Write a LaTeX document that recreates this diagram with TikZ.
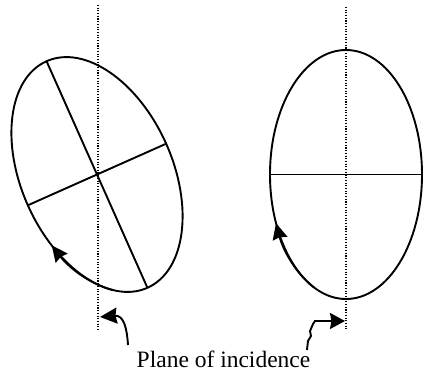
\documentclass[tikz,border=0pt]{standalone}
\usepackage{fontspec}
\setmainfont{Liberation Serif}
\usetikzlibrary{arrows.meta}
\tikzset{
  curve/.style={line width=1.9pt},
  dotline/.style={line width=1.1pt, dash pattern=on 1.1pt off 1.6pt},
  bigtip/.style={-{Stealth[length=16pt,width=15pt,inset=1.5pt]}},
}
\begin{document}
\begin{tikzpicture}[x=1pt,y=1pt]
\useasboundingbox (0,0) rectangle (423,373);
% centres
\coordinate (cL) at (97,198.5);
\coordinate (cR) at (346,198.5);
% left (rotated) ellipse
\begin{scope}[shift={(cL)}, rotate=24]
  \draw[curve] (0,0) ellipse[x radius=75.7, y radius=124];
  \coordinate (Ltop) at (0,124);
  \coordinate (Lbot) at (0,-124);
  \coordinate (Lleft) at (-75.7,0);
  \coordinate (Lright) at (75.7,0);
  \draw[curve, bigtip] (245:75.7 and 124) arc[start angle=245, end angle=202, x radius=75.7, y radius=124];
\end{scope}
\draw[curve] (Ltop) -- (Lbot);
\draw[curve] (Lleft) -- (Lright);
% right ellipse
\begin{scope}[shift={(cR)}]
  \draw[curve] (0,0) ellipse[x radius=76, y radius=124.5];
  \coordinate (Rleft) at (-76,0);
  \coordinate (Rright) at (76,0);
  \draw[curve, bigtip] (245:76 and 124.5) arc[start angle=245, end angle=203, x radius=76, y radius=124.5];
\end{scope}
\draw[curve] (Rleft) -- (Rright);
% planes of incidence (dotted)
\coordinate (pLt) at (98,368);
\coordinate (pLb) at (98,42);
\coordinate (pRt) at (346,366);
\coordinate (pRb) at (346,43);
\draw[dotline] (pLt) -- (pLb);
\draw[dotline] (pRt) -- (pRb);
% label
\node[anchor=base, inner sep=0pt, font=\fontsize{23.5}{28}\selectfont] (lbl) at (223.5,6) {Plane of incidence};
% left pointer
\coordinate (aLtail) at (128,28);
\coordinate (aLtip) at (100,56);
\draw[curve, -{Stealth[length=17pt,width=16pt,inset=1.5pt]}] (aLtail) .. controls (127,44) and (124,58) .. (aLtip);
% right pointer (squiggle)
\coordinate (aRtail) at (307,23);
\coordinate (aRtip) at (345,52);
\draw[curve, -{Stealth[length=15pt,width=16pt,inset=1.5pt]}] (aRtail) -- (308,32) -- (311,37) -- (310,42) -- (313,49) -- (315,52) -- (aRtip);
\end{tikzpicture}
\end{document}
